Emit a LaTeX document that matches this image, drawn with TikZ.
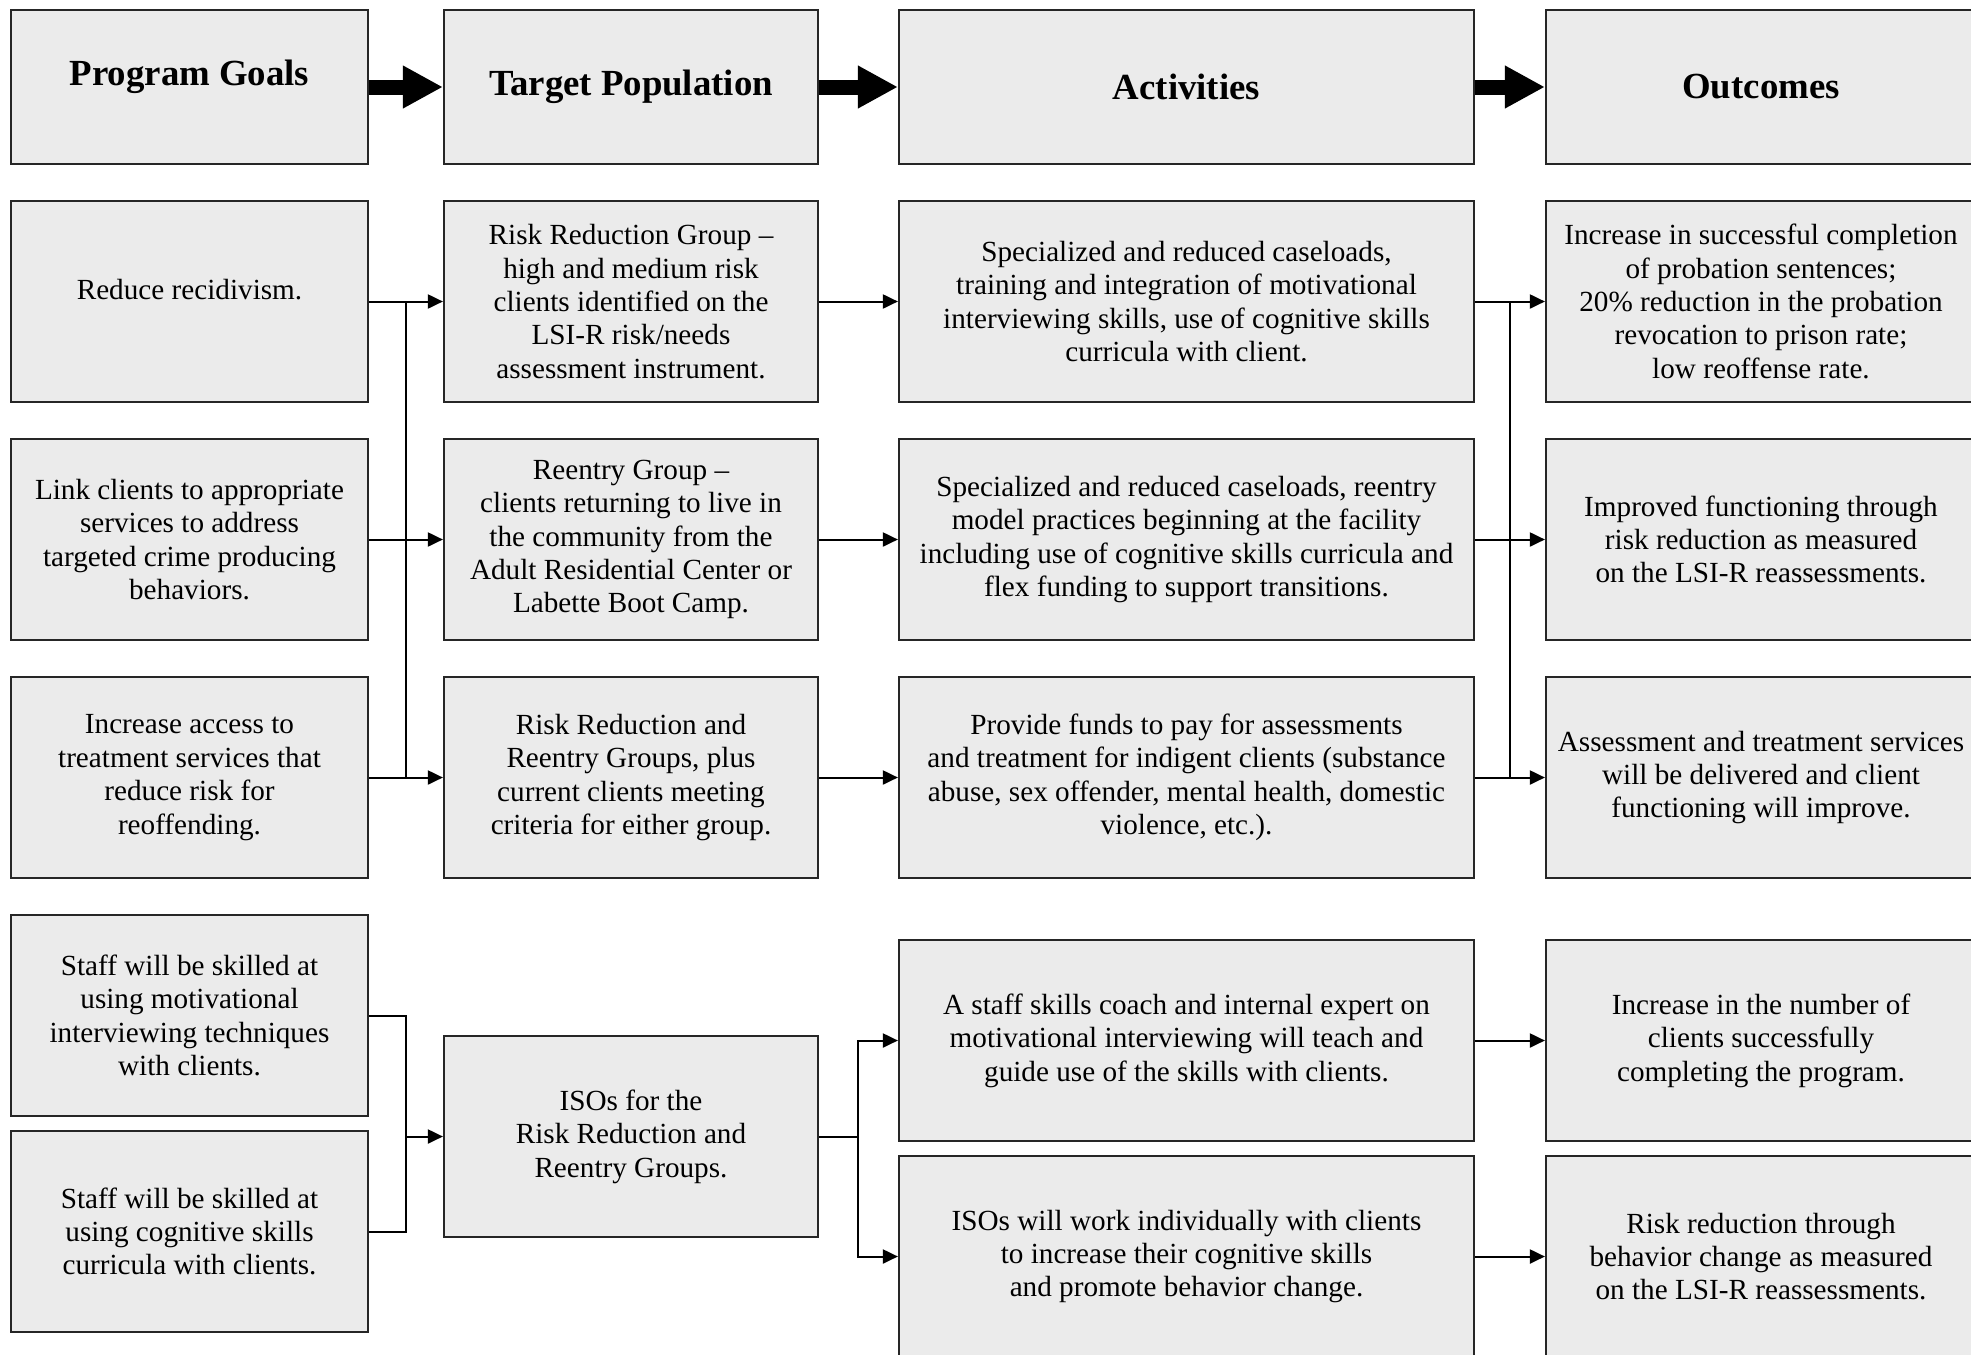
\documentclass[tikz,border=0pt]{standalone}
\usepackage{fontspec}
\setmainfont{Liberation Serif}
\usetikzlibrary{positioning,calc,arrows.meta}

\begin{document}
\begin{tikzpicture}[x=0.5pt, y=-0.5pt, node distance=17.4pt,
    box/.style={draw=black!85, line width=1.1pt, fill=black!8, align=center,
      inner sep=2pt, minimum height=100.5pt,
      font=\fontsize{14.6}{16.7}\selectfont},
    head/.style={box, minimum height=77pt,
      font=\fontsize{18.4}{22}\selectfont\bfseries},
    goalcol/.style={minimum width=178.5pt},
    groupcol/.style={minimum width=187pt},
    actcol/.style={minimum width=287.5pt},
    outcol/.style={minimum width=215pt},
    link/.style={-{Triangle[length=7.5pt,width=7pt]}, line width=1pt},
    bus/.style={line width=1pt},
    bigarrow/.style={-{Triangle[length=20pt,width=20pt]}, line width=7.5pt}]
  \useasboundingbox (0,0) rectangle (1971,1355);

  % headings
  \node[head, goalcol] (goals) at (189.5,87) {\raisebox{14pt}{Program Goals}};
  \node[head, groupcol, right=36.9pt of goals] (population) {Target Population};
  \node[head, actcol, right=39.4pt of population] (activities) {Activities};
  \node[head, outcol, right=34.9pt of activities] (outcomes) {Outcomes};
  \draw[bigarrow] (goals) -- (population);
  \draw[bigarrow] (population) -- (activities);
  \draw[bigarrow] (activities) -- (outcomes);

  % goals
  \node[box, goalcol, below=of goals] (goal1) {\raisebox{12pt}{Reduce recidivism.}};
  \node[box, goalcol, below=of goal1] (goal2)
    {Link clients to appropriate\\services to address\\targeted crime producing\\behaviors.};
  \node[box, goalcol, below=of goal2] (goal3)
    {Increase access to\\treatment services that\\reduce risk for\\reoffending.};
  \node[box, goalcol, below=of goal3] (goal4)
    {Staff will be skilled at\\using motivational\\interviewing techniques\\with clients.};
  \node[box, goalcol, below=6.4pt of goal4] (goal5)
    {Staff will be skilled at\\using cognitive skills\\curricula with clients.};

  % target groups
  \node[box, groupcol, below=of population] (group1)
    {Risk Reduction Group –\\high and medium risk\\clients identified on the\\LSI-R risk/needs\\assessment instrument.};
  \node[box, groupcol, below=of group1] (group2)
    {Reentry Group –\\clients returning to live in\\the community from the\\Adult Residential Center or\\Labette Boot Camp.};
  \node[box, groupcol, below=of group2] (group3)
    {Risk Reduction and\\Reentry Groups, plus\\current clients meeting\\criteria for either group.};
  \node[box, groupcol, below=77.9pt of group3] (isos)
    {ISOs for the\\Risk Reduction and\\Reentry Groups.};

  % activities
  \node[box, actcol, below=of activities] (act1)
    {Specialized and reduced caseloads,\\training and integration of motivational\\interviewing skills, use of cognitive skills\\curricula with client.};
  \node[box, actcol, below=of act1] (act2)
    {Specialized and reduced caseloads, reentry\\model practices beginning at the facility\\including use of cognitive skills curricula and\\flex funding to support transitions.};
  \node[box, actcol, below=of act2] (act3)
    {Provide funds to pay for assessments\\and treatment for indigent clients (substance\\abuse, sex offender, mental health, domestic\\violence, etc.).};
  \node[box, actcol, below=29.9pt of act3] (act4)
    {A staff skills coach and internal expert on\\motivational interviewing will teach and\\guide use of the skills with clients.};
  \node[box, actcol, below=6.4pt of act4] (act5)
    {ISOs will work individually with clients\\to increase their cognitive skills\\and promote behavior change.};

  % outcomes
  \node[box, outcol, right=34.9pt of act1] (out1)
    {Increase in successful completion\\of probation sentences;\\20\% reduction in the probation\\revocation to prison rate;\\low reoffense rate.};
  \node[box, outcol, right=34.9pt of act2] (out2)
    {Improved functioning through\\risk reduction as measured\\on the LSI-R reassessments.};
  \node[box, outcol, right=34.9pt of act3] (out3)
    {Assessment and treatment services\\will be delivered and client\\functioning will improve.};
  \node[box, outcol, right=34.9pt of act4] (out4)
    {Increase in the number of\\clients successfully\\completing the program.};
  \node[box, outcol, right=34.9pt of act5] (out5)
    {Risk reduction through\\behavior change as measured\\on the LSI-R reassessments.};

  % connectors
  \foreach \i in {1,2,3} {
    \draw[link] (goal\i) -- (group\i);
    \draw[link] (group\i) -- (act\i);
  }
  \foreach \i in {1,...,5}
    \draw[link] (act\i) -- (out\i);
  \draw[bus] ($(goal1.east)!0.5!(group1.west)$) -- ($(goal3.east)!0.5!(group3.west)$);
  \draw[bus] ($(act1.east)!0.5!(out1.west)$) -- ($(act3.east)!0.5!(out3.west)$);

  \coordinate[right=18.5pt of goal4.east] (merge);
  \draw[bus] (goal4.east) -- (merge) |- (goal5.east);
  \draw[link] (merge |- isos.west) -- (isos);
  \coordinate[right=19.5pt of isos.east] (split);
  \draw[bus] (isos) -- (split);
  \draw[link] (split) |- (act4);
  \draw[link] (split) |- (act5);
\end{tikzpicture}
\end{document}
